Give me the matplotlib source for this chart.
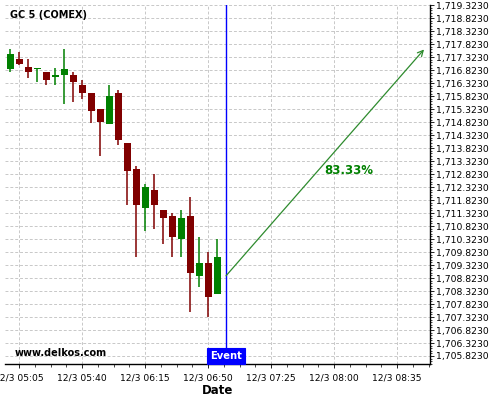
"""GC 5 (COMEX) 5-minute candles with event marker and projected move."""
import matplotlib

matplotlib.use("Agg")
import matplotlib.pyplot as plt
import matplotlib.transforms as mtransforms
from matplotlib.ticker import FixedLocator, FuncFormatter

# 5-minute bars, 12/3
times = ["05:00", "05:05", "05:10", "05:15", "05:20", "05:25", "05:30", "05:35",
         "05:40", "05:45", "05:50", "05:55", "06:00", "06:05", "06:10", "06:15",
         "06:20", "06:25", "06:30", "06:35", "06:40", "06:45", "06:50", "06:55"]
opens = [1716.86, 1717.25, 1716.94, 1716.86, 1716.75, 1716.57, 1716.64, 1716.63,
         1716.25, 1715.94, 1715.32, 1714.76, 1715.94, 1714.02, 1713.02, 1711.53,
         1712.21, 1711.44, 1711.21, 1710.34, 1711.21, 1708.91, 1709.40, 1708.22]
highs = [1717.63, 1717.53, 1717.24, 1716.90, 1716.76, 1716.91, 1717.62, 1716.74,
         1716.43, 1715.94, 1715.32, 1716.24, 1716.05, 1714.02, 1713.13, 1712.43,
         1712.81, 1711.44, 1711.34, 1711.44, 1711.94, 1710.39, 1709.81, 1710.31]
lows = [1716.74, 1717.02, 1716.54, 1716.35, 1716.24, 1716.24, 1715.53, 1715.60,
        1715.71, 1714.80, 1713.50, 1714.76, 1713.93, 1711.62, 1709.62, 1710.62,
        1710.70, 1710.12, 1709.62, 1709.62, 1707.50, 1708.49, 1707.32, 1708.20]
closes = [1717.44, 1717.07, 1716.76, 1716.90, 1716.45, 1716.62, 1716.86, 1716.37,
          1715.95, 1715.26, 1714.84, 1715.82, 1714.14, 1712.95, 1711.64, 1712.32,
          1711.64, 1711.14, 1710.41, 1711.13, 1709.03, 1709.40, 1708.10, 1709.63]

event_time = "07:00"
proj_start = ("07:00", 1708.91)
proj_end = ("08:50", 1717.62)
proj_label = "83.33%"
proj_label_pos = ("08:08", 1712.98)

x_tick_labels = ["12/3 05:05", "12/3 05:40", "12/3 06:15", "12/3 06:50",
                 "12/3 07:25", "12/3 08:00", "12/3 08:35"]
y_ticks = [1705.823 + 0.5 * i for i in range(28)]

GREEN = "#008000"
RED = "#800000"
GRID = "#c8c8c8"


def mins(t):
    h, m = t.split(":")
    return int(h) * 60 + int(m)


fig = plt.figure(figsize=(5, 4), dpi=100)
ax = fig.add_axes([0.01, 0.09, 0.85, 0.8975])

xs = [mins(t) for t in times]
for x, o, h, l, c in zip(xs, opens, highs, lows, closes):
    col = GREEN if c >= o else RED
    ax.vlines(x, l, h, color=col, linewidth=1.1, zorder=3)
    ax.bar(x, max(abs(c - o), 0.04), bottom=min(o, c), width=3.9,
           color=col, edgecolor=col, linewidth=0, zorder=4)

ex = mins(event_time)
ax.axvline(ex, color="#0000ff", linewidth=1.0, zorder=5)

ax.annotate("", xy=(mins(proj_end[0]), proj_end[1]),
            xytext=(mins(proj_start[0]), proj_start[1]),
            arrowprops=dict(arrowstyle="->", color="#2e8b2e", lw=0.9,
                            mutation_scale=10, shrinkA=0, shrinkB=0), zorder=5)
ax.text(mins(proj_label_pos[0]), proj_label_pos[1], proj_label, color=GREEN,
        fontsize=8.5, fontweight="bold", ha="center", va="center", zorder=6)

trans = mtransforms.blended_transform_factory(ax.transData, ax.transAxes)
ax.text(ex, 0.008, "Event", transform=trans, color="white", fontsize=7.2,
        fontweight="bold", ha="center", va="bottom", zorder=7,
        bbox=dict(boxstyle="square,pad=0.3", fc="#0000ff", ec="#0000ff", lw=0.8))

ax.text(0.012, 0.972, "GC 5 (COMEX)", transform=ax.transAxes, fontsize=7,
        fontweight="bold", ha="left", va="center")
ax.text(0.023, 0.03, "www.delkos.com", transform=ax.transAxes, fontsize=7,
        fontweight="bold", ha="left", va="center")

ax.set_xlim(mins("04:57") + 0.2, mins("08:53") + 0.3)
ax.set_ylim(1705.515, 1719.33)

xt = [mins(s.split(" ")[1]) for s in x_tick_labels]
ax.xaxis.set_major_locator(FixedLocator(xt))
ax.set_xticklabels(x_tick_labels, fontsize=6.6)
ax.xaxis.set_minor_locator(FixedLocator([xt[0] - 35 + 8.75 * i for i in range(40)]))
ax.yaxis.tick_right()
ax.yaxis.set_major_locator(FixedLocator(y_ticks))
ax.yaxis.set_major_formatter(FuncFormatter(lambda v, p: f"{v:,.4f}"))
ax.yaxis.set_minor_locator(FixedLocator([1705.523 + 0.1 * i for i in range(140)]))
ax.tick_params(axis="y", which="major", labelsize=6.7, length=3, width=0.6, pad=1)
ax.tick_params(axis="y", which="minor", length=1.5, width=0.5)
ax.tick_params(axis="x", which="major", length=3, width=0.6, pad=4)
ax.tick_params(axis="x", which="minor", length=2, width=0.5)

ax.grid(True, which="major", color=GRID, linestyle=(0, (3, 2)), linewidth=0.7)
ax.set_axisbelow(True)
for side in ("left", "top"):
    ax.spines[side].set_visible(False)
ax.spines["right"].set_linewidth(1.0)
ax.spines["bottom"].set_linewidth(1.0)

ax.set_xlabel("Date", fontsize=8.5, fontweight="bold", labelpad=1)

fig.savefig("out.png", dpi=100, facecolor="white")
